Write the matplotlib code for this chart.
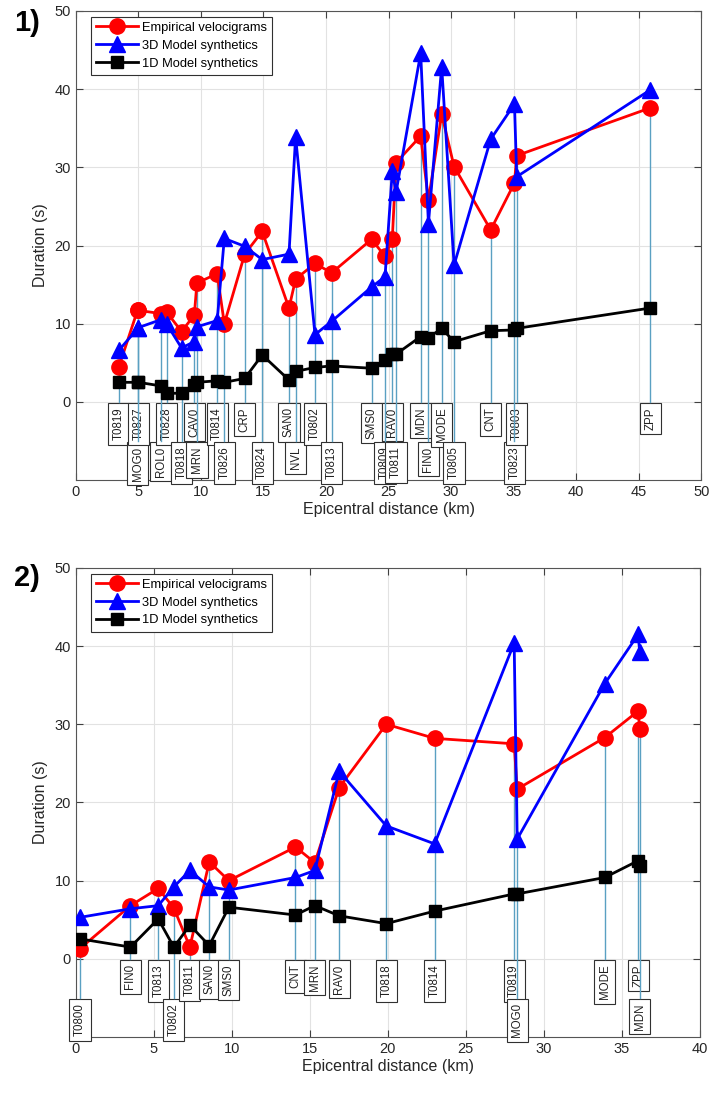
#duration vs epicentral distance, two events
import numpy as np
import matplotlib
matplotlib.use("Agg")
import matplotlib.pyplot as plt
from matplotlib.lines import Line2D

plt.rcParams['font.family'] = ['Liberation Sans', 'DejaVu Sans']

#event 1
p1_station = ['T0819', 'MOG0', 'T0827', 'ROL0', 'T0828', 'T0818', 'CAV0', 'MRN', 'T0814',
              'T0826', 'CRP', 'T0824', 'SAN0', 'NVL', 'T0802', 'T0813', 'SMS0', 'T0809',
              'RAV0', 'T0811', 'MDN', 'FIN0', 'MODE', 'T0805', 'CNT', 'T0823', 'T0803', 'ZPP']
p1_dist = [3.44, 4.95, 5.0, 6.77, 7.25, 8.45, 9.47, 9.68, 11.3, 11.87, 13.5, 14.9, 17.04, 17.57,
           19.12, 20.45, 23.65, 24.72, 25.3, 25.6, 27.57, 28.19, 29.25, 30.24, 33.17, 35.07, 35.25, 45.92]
p1_emp = [4.5, 11.8, 11.7, 11.3, 11.5, 9.0, 11.1, 15.2, 16.4, 10.0, 18.9, 21.8, 12.0, 15.7,
          17.7, 16.5, 20.8, 18.6, 20.8, 30.6, 34.0, 25.8, 36.8, 30.1, 22.0, 28.0, 31.5, 37.6]
p1_3d = [6.6, 9.4, 9.5, 10.5, 10.0, 6.9, 7.7, 9.6, 10.4, 20.9, 19.9, 18.2, 18.9, 33.9,
         8.6, 10.3, 14.7, 16.0, 29.5, 26.8, 44.6, 22.8, 42.9, 17.5, 33.6, 38.1, 28.8, 39.9]
p1_1d = [2.5, 2.5, 2.5, 2.05, 1.1, 1.1, 2.2, 2.5, 2.7, 2.5, 3.0, 6.0, 2.8, 3.9,
         4.4, 4.6, 4.3, 5.4, 6.1, 6.1, 8.35, 8.2, 9.4, 7.7, 9.1, 9.2, 9.4, 12.0]
p1_row = [0, 1, 0, 1, 0, 1, 0, 1, 0, 1, 0, 1, 0, 1, 0, 1, 0, 1, 0, 1, 0, 1, 0, 1, 0, 1, 0, 0]

#event 2
p2_station = ['T0800', 'FIN0', 'T0813', 'T0802', 'T0811', 'SAN0', 'SMS0', 'CNT', 'MRN',
              'RAV0', 'T0818', 'T0814', 'T0819', 'MOG0', 'MODE', 'ZPP', 'MDN']
p2_dist = [0.26, 3.5, 5.28, 6.28, 7.31, 8.55, 9.81, 14.08, 15.32, 16.88, 19.9, 23.0,
           28.1, 28.29, 33.91, 36.05, 36.15]
p2_emp = [1.3, 6.8, 9.0, 6.5, 1.5, 12.4, 10.0, 14.3, 12.3, 21.9, 30.0, 28.2, 27.5, 21.7, 28.3, 31.7, 29.4]
p2_3d = [5.3, 6.4, 6.8, 9.2, 11.3, 9.2, 8.8, 10.4, 11.3, 24.0, 17.0, 14.7, 40.4, 15.3, 35.2, 41.5, 39.2]
p2_1d = [2.55, 1.5, 5.1, 1.5, 4.3, 1.7, 6.6, 5.6, 6.8, 5.5, 4.5, 6.1, 8.3, 8.3, 10.4, 12.55, 11.9]
p2_row = [1, 0, 0, 1, 0, 0, 0, 0, 0, 0, 0, 0, 0, 1, 0, 0, 1]

series_names = ['Empirical velocigrams', '3D Model synthetics', '1D Model synthetics']

stem_col = '#5aa0c2'
row_top = [0.0, -5.0]


def draw_panel(ax, names, dist, emp, d3, d1, rows, xmax):
    # stems + station boxes
    for n, x, e, r in zip(names, dist, emp, rows):
        ax.plot([x, x], [row_top[r], e], color=stem_col, lw=1.0, zorder=4)
        ax.text(x, row_top[r] - 0.7, n, rotation=90, ha='center', va='top', fontsize=8.3,
                color='#202020', zorder=3, clip_on=False,
                bbox=dict(boxstyle='square,pad=0.4', fc='white', ec='#303030', lw=0.8))
    ax.plot(dist, emp, '-o', color='#ff0000', lw=2, ms=11, zorder=5)
    ax.plot(dist, d3, '-^', color='#0000ff', lw=2, ms=11, zorder=6)
    ax.plot(dist, d1, '-s', color='black', lw=2, ms=8.5, zorder=7)

    ax.set_xlim(0, xmax)
    ax.set_ylim(-10, 50)
    ax.set_xticks(np.arange(0, xmax + 1, 5))
    ax.set_yticks(np.arange(0, 51, 10))
    ax.grid(True, color='#e2e2e2', lw=0.8, zorder=0)
    ax.set_axisbelow(True)
    ax.tick_params(direction='in', top=True, right=True, length=5, labelsize=10.5,
                   colors='#404040', labelcolor='#262626')
    for s in ax.spines.values():
        s.set_color('#555555')
        s.set_linewidth(0.8)
    ax.set_xlabel('Epicentral distance (km)', fontsize=11.5, color='#262626', labelpad=2)
    ax.set_ylabel('Duration (s)', fontsize=11.5, color='#262626', labelpad=5)

    handles = [Line2D([], [], color='#ff0000', lw=2, marker='o', ms=11),
               Line2D([], [], color='#0000ff', lw=2, marker='^', ms=11),
               Line2D([], [], color='black', lw=2, marker='s', ms=8.5)]
    leg = ax.legend(handles, series_names, loc='upper left', bbox_to_anchor=(0.0235, 0.988),
                    borderaxespad=0, fontsize=9.3, handlelength=3.3, handletextpad=0.3,
                    labelspacing=0.45, borderpad=0.4, fancybox=False, framealpha=1,
                    edgecolor='#303030', numpoints=1)
    leg.get_frame().set_linewidth(0.8)
    leg.set_zorder(10)


fig = plt.figure(figsize=(7.09, 11), dpi=100)
ax1 = fig.add_axes([0.107, 0.5636, 0.882, 0.4264])
ax2 = fig.add_axes([0.107, 0.0573, 0.880, 0.4264])

draw_panel(ax1, p1_station, p1_dist, p1_emp, p1_3d, p1_1d, p1_row, 50)
draw_panel(ax2, p2_station, p2_dist, p2_emp, p2_3d, p2_1d, p2_row, 40)

fig.text(0.038, 0.979, '1)', fontsize=21, fontweight='bold', ha='center', va='center')
fig.text(0.038, 0.4745, '2)', fontsize=21, fontweight='bold', ha='center', va='center')

fig.savefig('out.png', dpi=100)
